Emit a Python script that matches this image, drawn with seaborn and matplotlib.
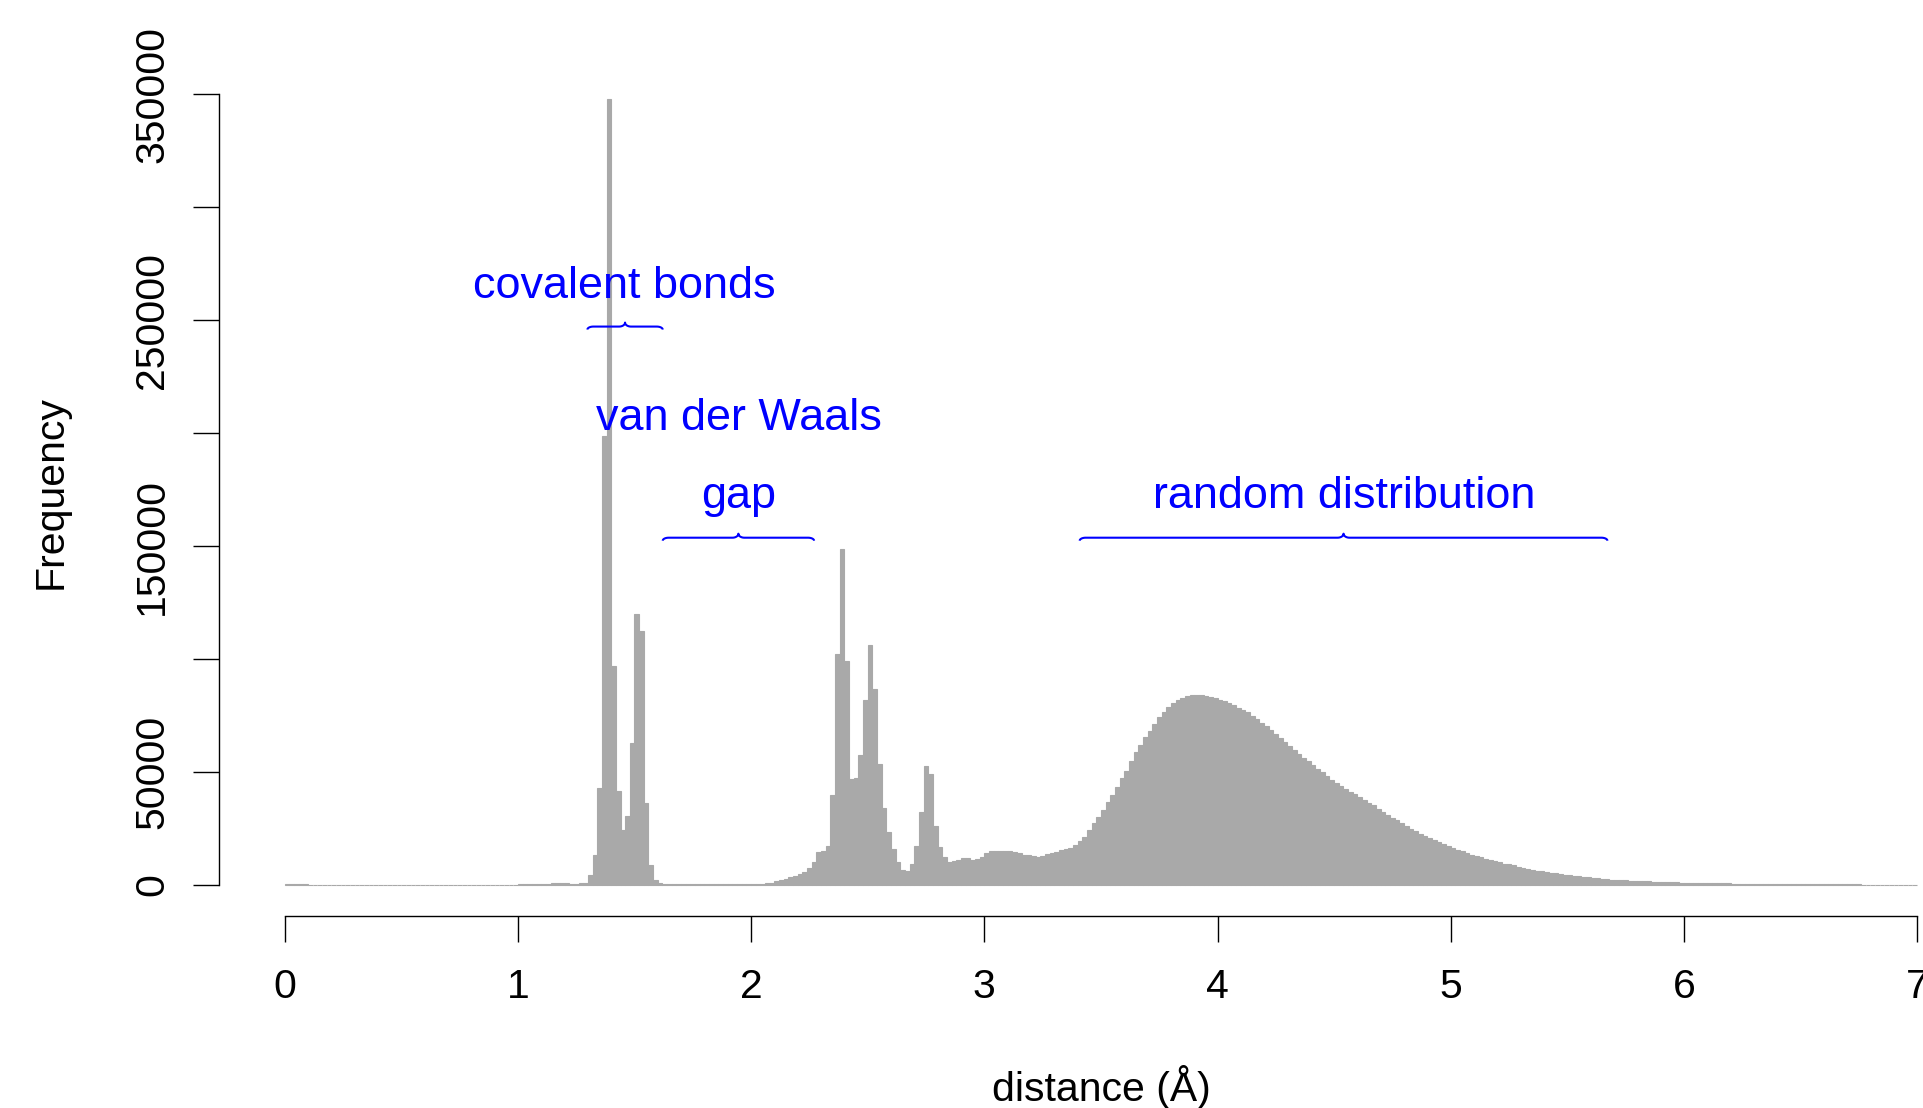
import numpy as np
import pandas as pd
import matplotlib
matplotlib.use("Agg")
import matplotlib.pyplot as plt
import seaborn as sns

# ---------------- data ----------------
bin_width = 0.02
# histogram counts, bins of 0.02 A starting at 0.00
counts = [
    300, 250, 200, 150, 120, 100, 80, 60, 50, 50,                                  # 0.00-0.18
    40, 40, 40, 40, 40, 40, 40, 40, 40, 40,                                        # 0.20-0.38
    40, 40, 40, 40, 40, 40, 40, 40, 40, 40,                                        # 0.40-0.58
    50, 50, 50, 50, 50, 50, 50, 50, 50, 50,                                        # 0.60-0.78
    60, 60, 70, 70, 80, 80, 90, 90, 100, 110,                                      # 0.80-0.98
    120, 140, 160, 200, 250, 320, 420, 600, 850, 1000,                             # 1.00-1.18
    800, 550, 450, 600, 1000, 4300, 13400, 42700, 198600, 348100,                  # 1.20-1.38
    97000, 41500, 24100, 30600, 63000, 120000, 112300, 36200, 8700, 1900,          # 1.40-1.58
    900, 450, 300, 250, 220, 200, 180, 170, 160, 150,                              # 1.60-1.78
    150, 150, 160, 170, 180, 200, 220, 250, 280, 320,                              # 1.80-1.98
    300, 360, 440, 740, 1000, 1500, 2200, 2700, 3400, 4100,                        # 2.00-2.18
    4900, 5600, 7400, 10100, 14700, 15000, 17000, 39700, 102000, 148700,           # 2.20-2.38
    99200, 46800, 47100, 57400, 81900, 106000, 86800, 53300, 34100, 23200,         # 2.40-2.58
    15800, 9900, 6600, 6200, 9300, 17000, 32300, 52700, 49200, 26100,              # 2.60-2.78
    16700, 12500, 10200, 10500, 11100, 11700, 12000, 11100, 11400, 12500,          # 2.80-2.98
    14000, 14900, 14900, 14900, 14900, 14900, 14500, 14000, 13400, 13000,          # 3.00-3.18
    12550, 12250, 12850, 13450, 14000, 14600, 15200, 15800, 16500, 17400,          # 3.20-3.38
    19200, 21300, 24100, 27200, 30000, 32900, 36500, 39900, 43400, 47200,          # 3.40-3.58
    50600, 54600, 58600, 61900, 65300, 68200, 71200, 74100, 76600, 78800,          # 3.60-3.78
    80300, 81900, 82800, 83400, 83900, 83900, 83900, 83600, 83000, 82500,          # 3.80-3.98
    81900, 81500, 80600, 79700, 78500, 77500, 76300, 74900, 73200, 71600,          # 4.00-4.18
    70100, 68600, 66900, 65100, 63300, 61400, 59600, 57900, 56200, 54800,          # 4.20-4.38
    53100, 51400, 49800, 48100, 46500, 44900, 43800, 42400, 41200, 40000,          # 4.40-4.58
    38800, 37400, 36300, 35300, 33700, 32300, 31000, 29400, 28600, 27300,          # 4.60-4.78
    26200, 24900, 23800, 22400, 21700, 20800, 19800, 18900, 17900, 17000,          # 4.80-4.98
    16200, 15500, 14800, 14000, 13400, 12700, 12100, 11500, 10900, 10500,          # 5.00-5.18
    9900, 9400, 9000, 8600, 8000, 7500, 7100, 6700, 6300, 5900,                    # 5.20-5.38
    5600, 5300, 5000, 4900, 4500, 4300, 4100, 3800, 3500, 3300,                    # 5.40-5.58
    3100, 2900, 2700, 2500, 2300, 2100, 2000, 1900, 1800, 1750,                    # 5.60-5.78
    1600, 1550, 1500, 1400, 1300, 1250, 1200, 1100, 1050, 1000,                    # 5.80-5.98
    950, 900, 850, 800, 760, 720, 680, 640, 610, 580,                              # 6.00-6.18
    550, 520, 490, 470, 450, 420, 400, 380, 360, 340,                              # 6.20-6.38
    320, 300, 290, 270, 260, 250, 230, 220, 210, 200,                              # 6.40-6.58
    190, 180, 170, 160, 150, 140, 130, 120, 110, 100,                              # 6.60-6.78
    90, 80, 70, 60, 50, 45, 40, 35, 30, 25,                                        # 6.80-6.98
]

x_ticks = [0, 1, 2, 3, 4, 5, 6, 7]
x_tick_labels = ["0", "1", "2", "3", "4", "5", "6", "7"]
y_ticks = [0, 50000, 100000, 150000, 200000, 250000, 300000, 350000]
y_tick_labels = ["0", "50000", "", "150000", "", "250000", "", "350000"]

x_label = "distance (Å)"
y_label = "Frequency"

note_texts = ["covalent bonds", "van der Waals", "gap", "random distribution"]
note_x = [1.457, 1.947, 1.947, 4.542]
note_y = [259700, 201200, 166700, 166700]

brace_start = [1.298, 1.621, 3.409]
brace_end = [1.621, 2.270, 5.672]
brace_y = [247200, 153700, 153700]

# ---------------- style ----------------
sns.set_style("ticks")
plt.rcParams['font.family'] = ['Liberation Sans', 'DejaVu Sans']
plt.rcParams['text.color'] = 'black'
plt.rcParams['axes.labelcolor'] = 'black'
plt.rcParams['xtick.color'] = 'black'
plt.rcParams['ytick.color'] = 'black'

W, H = 1924, 1108
fig = plt.figure(figsize=(W / 100, H / 100), dpi=100)
fig.patch.set_facecolor("white")

# axes geometry (pixels): left edge at x=-0.28, bottom edge at -4% of max
ax_left_px, ax_width_px = 219.4, 1763.0
ax_bottom_px, ax_height_px = 916.2, 848.9
ax = fig.add_axes([ax_left_px / W, (H - ax_bottom_px) / H, ax_width_px / W, ax_height_px / H])

n_bins = len(counts)
lo, hi = 0.0, n_bins * bin_width
mids = lo + (np.arange(n_bins) + 0.5) * bin_width
df = pd.DataFrame({"distance": mids, "count": counts})

sns.histplot(data=df, x="distance", weights="count", bins=n_bins, binrange=(lo, hi),
             color="#A9A9A9", edgecolor="#A9A9A9", linewidth=0.8, alpha=1,
             ax=ax)

ymax = max(counts)
ax.set_xlim(lo - 0.04 * (hi - lo), hi + 0.04 * (hi - lo))
ax.set_ylim(-0.04 * ymax, 1.04 * ymax)

for s in ["top", "right"]:
    ax.spines[s].set_visible(False)
ax.spines["left"].set_bounds(y_ticks[0], y_ticks[-1])
ax.spines["bottom"].set_bounds(x_ticks[0], x_ticks[-1])
for s in ["left", "bottom"]:
    ax.spines[s].set_color("black")
    ax.spines[s].set_linewidth(1.0)

ax.set_xticks(x_ticks)
ax.set_xticklabels(x_tick_labels)
ax.set_yticks(y_ticks)
ax.set_yticklabels(y_tick_labels, rotation=90, va="center")
ax.tick_params(axis="both", direction="out", length=18.6, width=1.0,
               color="black", labelsize=29.5, labelcolor="black")
ax.tick_params(axis="x", pad=19)
ax.tick_params(axis="y", pad=16)
ax.set_xlabel("")
ax.set_ylabel("")

# axis titles
fig.text((ax_left_px + ax_width_px / 2) / W, (H - 1100.6) / H, x_label,
         ha="center", va="baseline", fontsize=29.5, color="black")
ycenter_px = ax_bottom_px - ax_height_px / 2
fig.text(62 / W, (H - ycenter_px) / H, y_label, rotation=90, rotation_mode="anchor",
         ha="center", va="baseline", fontsize=29.5, color="black")

# annotations
for t, x, y in zip(note_texts, note_x, note_y):
    ax.text(x, y, t, color="#0000FF", fontsize=32.4, ha="center", va="baseline")

dx = (ax.get_xlim()[1] - ax.get_xlim()[0]) / ax_width_px   # data units per px
dy = (ax.get_ylim()[1] - ax.get_ylim()[0]) / ax_height_px


def brace(x0, x1, y, hook_w=6, hook_h=3, tip_w=6, tip_h=4):
    t = np.linspace(0, np.pi / 2, 12)
    xc = (x0 + x1) / 2
    hw, hh, tw, th = hook_w * dx, hook_h * dy, tip_w * dx, tip_h * dy
    xs = list(x0 + hw - hw * np.cos(t)); ys = list(y - hh + hh * np.sin(t))
    xs += list(xc - tw + tw * np.sin(t)); ys += list(y + th - th * np.cos(t))
    xs += list(xc + tw - tw * np.cos(t)); ys += list(y + th - th * np.sin(t))
    xs += list(x1 - hw + hw * np.sin(t)); ys += list(y - hh + hh * np.cos(t))
    ax.plot(xs, ys, color="#0000FF", lw=1.5, solid_capstyle="butt", clip_on=False)


for a, b, y in zip(brace_start, brace_end, brace_y):
    brace(a, b, y)

fig.savefig("out.png", dpi=100, facecolor="white")
